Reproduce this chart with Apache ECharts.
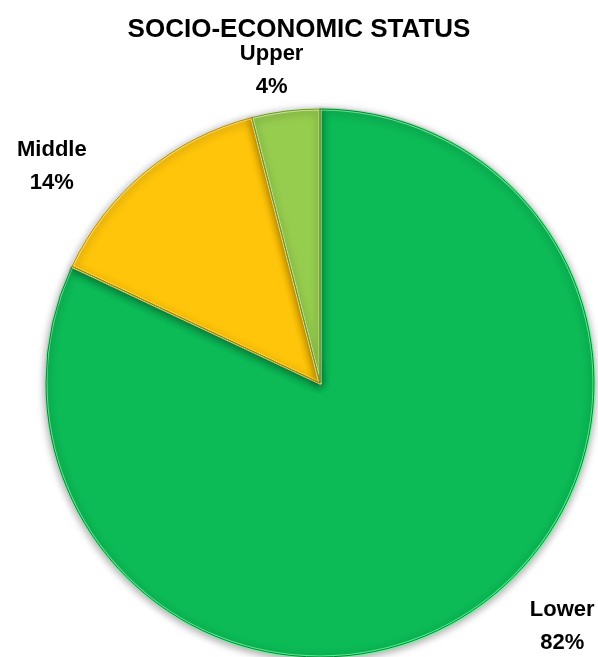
<!DOCTYPE html>
<html>
<head>
<meta charset="utf-8">
<script src="https://cdn.jsdelivr.net/npm/echarts@6/dist/echarts.min.js"></script>
<style>
  html, body { margin: 0; padding: 0; background: #fff; }
  #chart { width: 598px; height: 657px; }
</style>
</head>
<body>
<div id="chart"></div>
<script>
// Socio-economic status shares (percent)
const categories = ['Lower', 'Middle', 'Upper'];
const shares = [82, 14, 4];

// Slice fills and bevel edge tints
const fillColors = ['#0CBA56', '#FFC50A', '#96CD4E'];
const edgeLight = ['rgba(120,240,160,0.8)', 'rgba(255,230,120,0.8)', 'rgba(210,240,150,0.8)'];
const edgeDark = ['#06843A', '#B88700', '#6A9434'];

// Label nudges (px) away from the default outside anchor
const labelNudge = { Lower: [69, -22], Middle: [-63, 25], Upper: [-4, -1] };

const chart = echarts.init(document.getElementById('chart'), null, { renderer: 'canvas' });

const baseData = categories.map((name, i) => ({
  name,
  value: shares[i],
  itemStyle: { color: fillColors[i], borderColor: edgeLight[i] }
}));
const edgeData = categories.map((name, i) => ({
  name,
  value: shares[i],
  itemStyle: { color: 'rgba(0,0,0,0)', borderColor: edgeDark[i] }
}));

const font = '"Liberation Sans", Arial, sans-serif';

chart.setOption({
  animation: false,
  title: {
    text: 'SOCIO-ECONOMIC STATUS',
    left: 'center',
    top: 12,
    textStyle: { fontFamily: font, fontWeight: 'bold', fontSize: 26, color: '#000' }
  },
  series: [
    {
      type: 'pie',
      center: [320, 383],
      radius: 274,
      startAngle: 90,
      clockwise: true,
      avoidLabelOverlap: false,
      itemStyle: {
        borderWidth: 3,
        shadowBlur: 8,
        shadowColor: 'rgba(0,0,0,0.35)',
        shadowOffsetY: 2
      },
      label: {
        show: true,
        position: 'outside',
        formatter: '{b}\n{d}%',
        fontFamily: font,
        fontWeight: 'bold',
        fontSize: 22,
        lineHeight: 33,
        color: '#000',
        align: 'center'
      },
      labelLine: { show: false, length: 40, length2: 0 },
      labelLayout: function (params) {
        const n = labelNudge[categories[params.dataIndex]];
        return { align: 'center', verticalAlign: 'middle', dx: n[0], dy: n[1] };
      },
      emphasis: { disabled: true },
      data: baseData
    },
    {
      type: 'pie',
      center: [320, 383],
      radius: 274,
      startAngle: 90,
      clockwise: true,
      silent: true,
      itemStyle: { borderWidth: 1 },
      label: { show: false },
      labelLine: { show: false },
      emphasis: { disabled: true },
      data: edgeData
    }
  ]
});
</script>
</body>
</html>
